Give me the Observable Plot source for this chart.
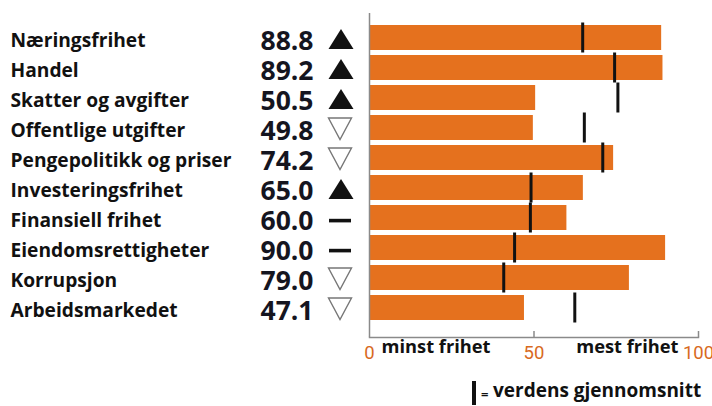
<!DOCTYPE html>
<html>
<head>
<meta charset="utf-8">
<script src="https://cdn.jsdelivr.net/npm/d3@7"></script>
<script src="https://cdn.jsdelivr.net/npm/@observablehq/plot@0.6"></script>
<style>
  html, body { margin: 0; padding: 0; background: #fff; }
  #wrap { width: 712px; height: 406px; position: relative; overflow: hidden; }
  #legend { position: relative; height: 38px; font-family: "Open Sans", sans-serif; }
  #legend .bar { position: absolute; left: 472px; top: 13px; width: 3.5px; height: 24px; background: #111; }
  #legend .eq { position: absolute; left: 481px; top: 17px; font-size: 13px; font-weight: bold; color: #111; }
  #legend .txt { position: absolute; left: 493px; top: 9px; font-size: 19px; font-weight: bold; color: #111; white-space: nowrap; }
</style>
</head>
<body>
<div id="wrap">
  <div id="chart"></div>
  <div id="legend"><span class="bar"></span><span class="eq">=</span><span class="txt">verdens gjennomsnitt</span></div>
</div>
<script>
const categories = ["Næringsfrihet", "Handel", "Skatter og avgifter", "Offentlige utgifter", "Pengepolitikk og priser", "Investeringsfrihet", "Finansiell frihet", "Eiendomsrettigheter", "Korrupsjon", "Arbeidsmarkedet"];
const scores = [88.8, 89.2, 50.5, 49.8, 74.2, 65.0, 60.0, 90.0, 79.0, 47.1];
const worldAverage = [64.8, 74.5, 75.5, 65.3, 70.9, 49.1, 48.9, 44.1, 40.8, 62.4];
const trends = ["up", "up", "up", "down", "down", "up", "flat", "flat", "down", "down"];
const xTicks = [0, 50, 100];
const axisNotes = [
  {x: 0, text: "minst frihet", anchor: "start"},
  {x: 100, text: "mest frihet", anchor: "end"}
];

const data = categories.map((name, i) => ({name, value: scores[i], avg: worldAverage[i], trend: trends[i]}));

const upTri = {draw(ctx) { ctx.moveTo(0, -9); ctx.lineTo(12.5, 11); ctx.lineTo(-12.5, 11); ctx.closePath(); }};
const downTri = {draw(ctx) { ctx.moveTo(-11.5, -10); ctx.lineTo(11.5, -10); ctx.lineTo(0, 11.5); ctx.closePath(); }};
const dash = {draw(ctx) { ctx.rect(-11, 0.8, 22, 3.6); }};

const FONT = "Open Sans, sans-serif";
const ORANGE = "#e5711e";
const GRAY = "#8a8a8a";

const chart = Plot.plot({
  width: 712,
  height: 368,
  marginTop: 13,
  marginBottom: 31,
  marginLeft: 369,
  marginRight: 14,
  style: {fontFamily: FONT, background: "#fff"},
  x: {domain: [0, 100], axis: null},
  y: {domain: categories, axis: null, paddingInner: 0.16, paddingOuter: 0.39, align: 0.43},
  marks: [
    Plot.barX(data, {y: "name", x: "value", fill: ORANGE}),
    Plot.tickX(data, {y: "name", x: "avg", stroke: "#111", strokeWidth: 3, insetTop: -2.5, insetBottom: -2.5}),
    Plot.ruleX([0], {stroke: GRAY, strokeWidth: 1.5}),
    Plot.ruleX([50, 100], {stroke: GRAY, strokeWidth: 1.5, insetTop: 318}),
    Plot.frame({anchor: "bottom", stroke: GRAY, strokeWidth: 1.5}),
    Plot.axisX({ticks: xTicks, tickSize: 0, tickPadding: 8, fontSize: 18.5, fill: "#d86a1e", fontFamily: "Liberation Sans Narrow, Roboto, sans-serif", tickFormat: d => String(d)}),
    Plot.text(axisNotes.filter(d => d.anchor === "start"), {x: "x", text: "text", textAnchor: "start", dx: 12, frameAnchor: "bottom", dy: 15, fontSize: 18.3, fontWeight: "bold", fill: "#111", fontFamily: FONT}),
    Plot.text(axisNotes.filter(d => d.anchor === "end"), {x: "x", text: "text", textAnchor: "end", dx: -20, frameAnchor: "bottom", dy: 15, fontSize: 18.3, fontWeight: "bold", fill: "#111", fontFamily: FONT}),
    Plot.text(data, {y: "name", text: "name", frameAnchor: "left", textAnchor: "start", dx: -359, dy: 3.3, fontSize: 19.2, fontWeight: "bold", fill: "#111", fontFamily: FONT}),
    Plot.text(data, {y: "name", text: d => d.value.toFixed(1), frameAnchor: "left", textAnchor: "end", dx: -56, dy: 3.6, fontSize: 26.5, fontWeight: "bold", fill: "#15151f", fontFamily: FONT}),
    Plot.dot(data.filter(d => d.trend === "up"), {y: "name", frameAnchor: "left", dx: -28.5, symbol: upTri, fill: "#111", stroke: "none"}),
    Plot.dot(data.filter(d => d.trend === "down"), {y: "name", frameAnchor: "left", dx: -29.5, symbol: downTri, fill: "none", stroke: "#777", strokeWidth: 1.4}),
    Plot.dot(data.filter(d => d.trend === "flat"), {y: "name", frameAnchor: "left", dx: -29.5, symbol: dash, fill: "#111", stroke: "none"})
  ]
});
document.getElementById("chart").appendChild(chart);
</script>
</body>
</html>
